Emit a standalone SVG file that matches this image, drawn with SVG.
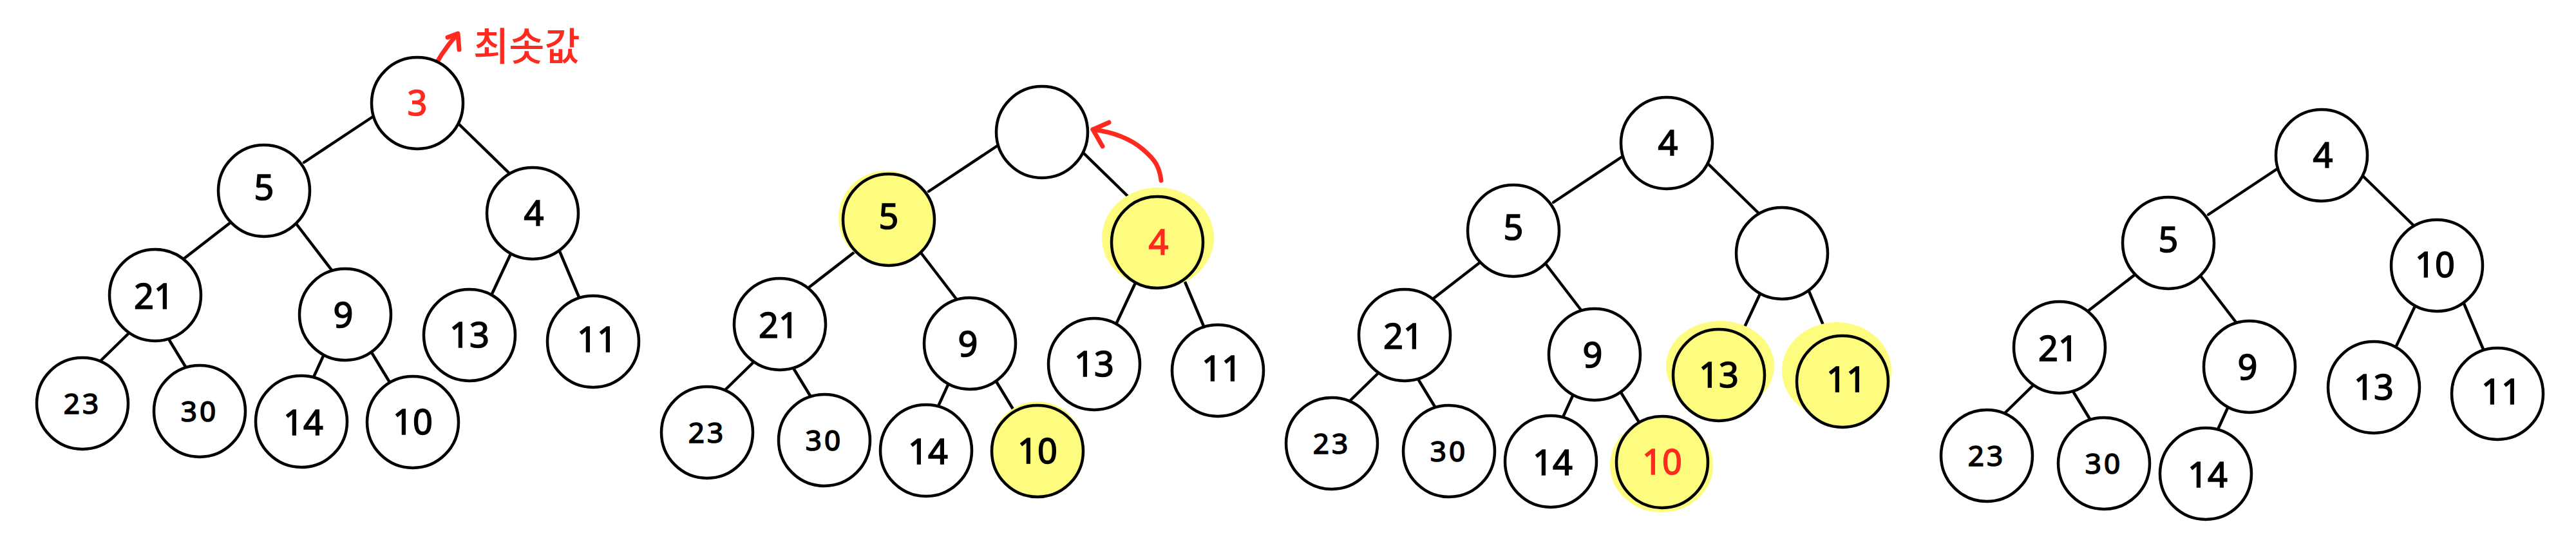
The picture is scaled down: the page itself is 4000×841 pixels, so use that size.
<svg xmlns="http://www.w3.org/2000/svg" width="4000" height="841" viewBox="0 0 4000 841">
<style>
.c{fill:#ffffff;stroke:#000;stroke-width:4.5}
.cy{fill:#fdfc7f;stroke:#000;stroke-width:4.5}
.hl{fill:#fdfc7f;stroke:none}
.e{stroke:#000;stroke-width:4.5;stroke-linecap:round;fill:none}
.t{font-family:"Noto Sans","Liberation Sans",sans-serif;font-size:54px;fill:#000;stroke:#000;stroke-width:1.6;text-anchor:middle}
.s{font-size:44px;letter-spacing:4px}
.r{fill:#ff2a1f;stroke:#ff2a1f}
.ra{stroke:#ff2a1f;stroke-width:7;stroke-linecap:round;stroke-linejoin:round;fill:none}
.k{font-family:"Noto Sans CJK KR","Noto Sans",sans-serif;font-size:60px;font-weight:500;fill:#ff2a1f}
</style>
<rect width="4000" height="841" fill="#ffffff"/>

<!-- Tree 1 -->
<g id="tree1">
<g id="t1-connectors">
<line class="e" x1="579" y1="181" x2="472" y2="252"/>
<line class="e" x1="713" y1="193" x2="790" y2="268"/>
<line class="e" x1="357" y1="346" x2="286" y2="401"/>
<line class="e" x1="459" y1="346" x2="515" y2="419"/>
<line class="e" x1="793" y1="394" x2="763" y2="458"/>
<line class="e" x1="869" y1="390" x2="899" y2="461"/>
<line class="e" x1="199" y1="518" x2="157" y2="559"/>
<line class="e" x1="263" y1="528" x2="288" y2="569"/>
<line class="e" x1="503" y1="550" x2="487" y2="585"/>
<line class="e" x1="577" y1="547" x2="605" y2="593"/>
<path class="ra" d="M666,120 C680,90 695,70 710,53"/>
<path class="ra" d="M695,58 L711,52 L713,77"/>
</g>
<g id="t1-root"><circle class="c" cx="648" cy="160" r="71"/><text class="t r" x="648" y="179">3</text></g>
<g id="t1-min-label"><text class="k" x="735" y="94">최솟값</text></g>
<g id="t1-n5"><circle class="c" cx="410" cy="296" r="71"/><text class="t" x="410" y="310">5</text></g>
<g id="t1-n4"><circle class="c" cx="827" cy="331" r="71"/><text class="t" x="829" y="350">4</text></g>
<g id="t1-n21"><circle class="c" cx="241" cy="458" r="71"/><text class="t" x="239" y="479">21</text></g>
<g id="t1-n9"><circle class="c" cx="536" cy="488" r="71"/><text class="t" x="533" y="508">9</text></g>
<g id="t1-n13"><circle class="c" cx="729" cy="520" r="71"/><text class="t" x="729" y="539">13</text></g>
<g id="t1-n11"><circle class="c" cx="921" cy="530" r="71"/><text class="t" x="927" y="546">11</text></g>
<g id="t1-n23"><circle class="c" cx="128" cy="626" r="71"/><text class="t s" x="128" y="642">23</text></g>
<g id="t1-n30"><circle class="c" cx="310" cy="638" r="71"/><text class="t s" x="310" y="654">30</text></g>
<g id="t1-n14"><circle class="c" cx="468" cy="654" r="71"/><text class="t" x="471" y="675">14</text></g>
<g id="t1-n10"><circle class="c" cx="641" cy="655" r="71"/><text class="t" x="641" y="674">10</text></g>
</g>

<!-- Tree 2 -->
<g id="tree2" transform="translate(970,45)">
<g id="t2-connectors">
<line class="e" x1="579" y1="181" x2="472" y2="252"/>
<line class="e" x1="713" y1="193" x2="790" y2="268"/>
<line class="e" x1="357" y1="346" x2="286" y2="401"/>
<line class="e" x1="459" y1="346" x2="515" y2="419"/>
<line class="e" x1="793" y1="394" x2="763" y2="458"/>
<line class="e" x1="869" y1="390" x2="899" y2="461"/>
<line class="e" x1="199" y1="518" x2="157" y2="559"/>
<line class="e" x1="263" y1="528" x2="288" y2="569"/>
<line class="e" x1="503" y1="550" x2="487" y2="585"/>
<line class="e" x1="577" y1="547" x2="605" y2="593"/>
<path class="ra" d="M833,235 C830,210 820,200 805,187 C785,170 760,160 727,156"/>
<path class="ra" d="M752,145 L727,156 L742,182"/>
</g>
<g id="t2-root"><circle class="c" cx="648" cy="160" r="71"/></g>
<g id="t2-n5"><ellipse class="hl" cx="406" cy="293" rx="74" ry="73"/><circle class="cy" cx="410" cy="296" r="71"/><text class="t" x="410" y="310">5</text></g>
<g id="t2-n4"><ellipse class="hl" cx="828" cy="324" rx="87" ry="78"/><circle class="cy" cx="827" cy="331" r="71"/><text class="t r" x="829" y="350">4</text></g>
<g id="t2-n21"><circle class="c" cx="241" cy="458" r="71"/><text class="t" x="239" y="479">21</text></g>
<g id="t2-n9"><circle class="c" cx="536" cy="488" r="71"/><text class="t" x="533" y="508">9</text></g>
<g id="t2-n13"><circle class="c" cx="729" cy="520" r="71"/><text class="t" x="729" y="539">13</text></g>
<g id="t2-n11"><circle class="c" cx="921" cy="530" r="71"/><text class="t" x="927" y="546">11</text></g>
<g id="t2-n23"><circle class="c" cx="128" cy="626" r="71"/><text class="t s" x="128" y="642">23</text></g>
<g id="t2-n30"><circle class="c" cx="310" cy="638" r="71"/><text class="t s" x="310" y="654">30</text></g>
<g id="t2-n14"><circle class="c" cx="468" cy="654" r="71"/><text class="t" x="471" y="675">14</text></g>
<g id="t2-n10"><ellipse class="hl" cx="641" cy="651" rx="72" ry="73"/><circle class="cy" cx="641" cy="655" r="71"/><text class="t" x="641" y="674">10</text></g>
</g>

<!-- Tree 3 -->
<g id="tree3" transform="translate(1940,62)">
<g id="t3-connectors">
<line class="e" x1="579" y1="181" x2="472" y2="252"/>
<line class="e" x1="713" y1="193" x2="790" y2="268"/>
<line class="e" x1="357" y1="346" x2="286" y2="401"/>
<line class="e" x1="459" y1="346" x2="515" y2="419"/>
<line class="e" x1="793" y1="394" x2="763" y2="458"/>
<line class="e" x1="869" y1="390" x2="899" y2="461"/>
<line class="e" x1="199" y1="518" x2="157" y2="559"/>
<line class="e" x1="263" y1="528" x2="288" y2="569"/>
<line class="e" x1="503" y1="550" x2="487" y2="585"/>
<line class="e" x1="577" y1="547" x2="605" y2="593"/>
</g>
<g id="t3-root"><circle class="c" cx="648" cy="160" r="71"/><text class="t" x="650" y="179">4</text></g>
<g id="t3-n5"><circle class="c" cx="410" cy="296" r="71"/><text class="t" x="410" y="310">5</text></g>
<g id="t3-n4"><circle class="c" cx="827" cy="331" r="71"/></g>
<g id="t3-n21"><circle class="c" cx="241" cy="458" r="71"/><text class="t" x="239" y="479">21</text></g>
<g id="t3-n9"><circle class="c" cx="536" cy="488" r="71"/><text class="t" x="533" y="508">9</text></g>
<g id="t3-n13"><ellipse class="hl" cx="731" cy="506" rx="84" ry="70"/><circle class="cy" cx="729" cy="520" r="71"/><text class="t" x="729" y="539">13</text></g>
<g id="t3-n11"><ellipse class="hl" cx="912" cy="513" rx="85" ry="75"/><circle class="cy" cx="921" cy="530" r="71"/><text class="t" x="927" y="546">11</text></g>
<g id="t3-n23"><circle class="c" cx="128" cy="626" r="71"/><text class="t s" x="128" y="642">23</text></g>
<g id="t3-n30"><circle class="c" cx="310" cy="638" r="71"/><text class="t s" x="310" y="654">30</text></g>
<g id="t3-n14"><circle class="c" cx="468" cy="654" r="71"/><text class="t" x="471" y="675">14</text></g>
<g id="t3-n10"><ellipse class="hl" cx="640" cy="660" rx="80" ry="73"/><circle class="cy" cx="641" cy="655" r="71"/><text class="t r" x="641" y="674">10</text></g>
</g>

<!-- Tree 4 -->
<g id="tree4" transform="translate(2957,81)">
<g id="t4-connectors">
<line class="e" x1="579" y1="181" x2="472" y2="252"/>
<line class="e" x1="713" y1="193" x2="790" y2="268"/>
<line class="e" x1="357" y1="346" x2="286" y2="401"/>
<line class="e" x1="459" y1="346" x2="515" y2="419"/>
<line class="e" x1="793" y1="394" x2="763" y2="458"/>
<line class="e" x1="869" y1="390" x2="899" y2="461"/>
<line class="e" x1="199" y1="518" x2="157" y2="559"/>
<line class="e" x1="263" y1="528" x2="288" y2="569"/>
<line class="e" x1="503" y1="550" x2="487" y2="585"/>
</g>
<g id="t4-root"><circle class="c" cx="648" cy="160" r="71"/><text class="t" x="650" y="179">4</text></g>
<g id="t4-n5"><circle class="c" cx="410" cy="296" r="71"/><text class="t" x="410" y="310">5</text></g>
<g id="t4-n10"><circle class="c" cx="827" cy="331" r="71"/><text class="t" x="824" y="349">10</text></g>
<g id="t4-n21"><circle class="c" cx="241" cy="458" r="71"/><text class="t" x="239" y="479">21</text></g>
<g id="t4-n9"><circle class="c" cx="536" cy="488" r="71"/><text class="t" x="533" y="508">9</text></g>
<g id="t4-n13"><circle class="c" cx="729" cy="520" r="71"/><text class="t" x="729" y="539">13</text></g>
<g id="t4-n11"><circle class="c" cx="921" cy="530" r="71"/><text class="t" x="927" y="546">11</text></g>
<g id="t4-n23"><circle class="c" cx="128" cy="626" r="71"/><text class="t s" x="128" y="642">23</text></g>
<g id="t4-n30"><circle class="c" cx="310" cy="638" r="71"/><text class="t s" x="310" y="654">30</text></g>
<g id="t4-n14"><circle class="c" cx="468" cy="654" r="71"/><text class="t" x="471" y="675">14</text></g>
</g>
</svg>
